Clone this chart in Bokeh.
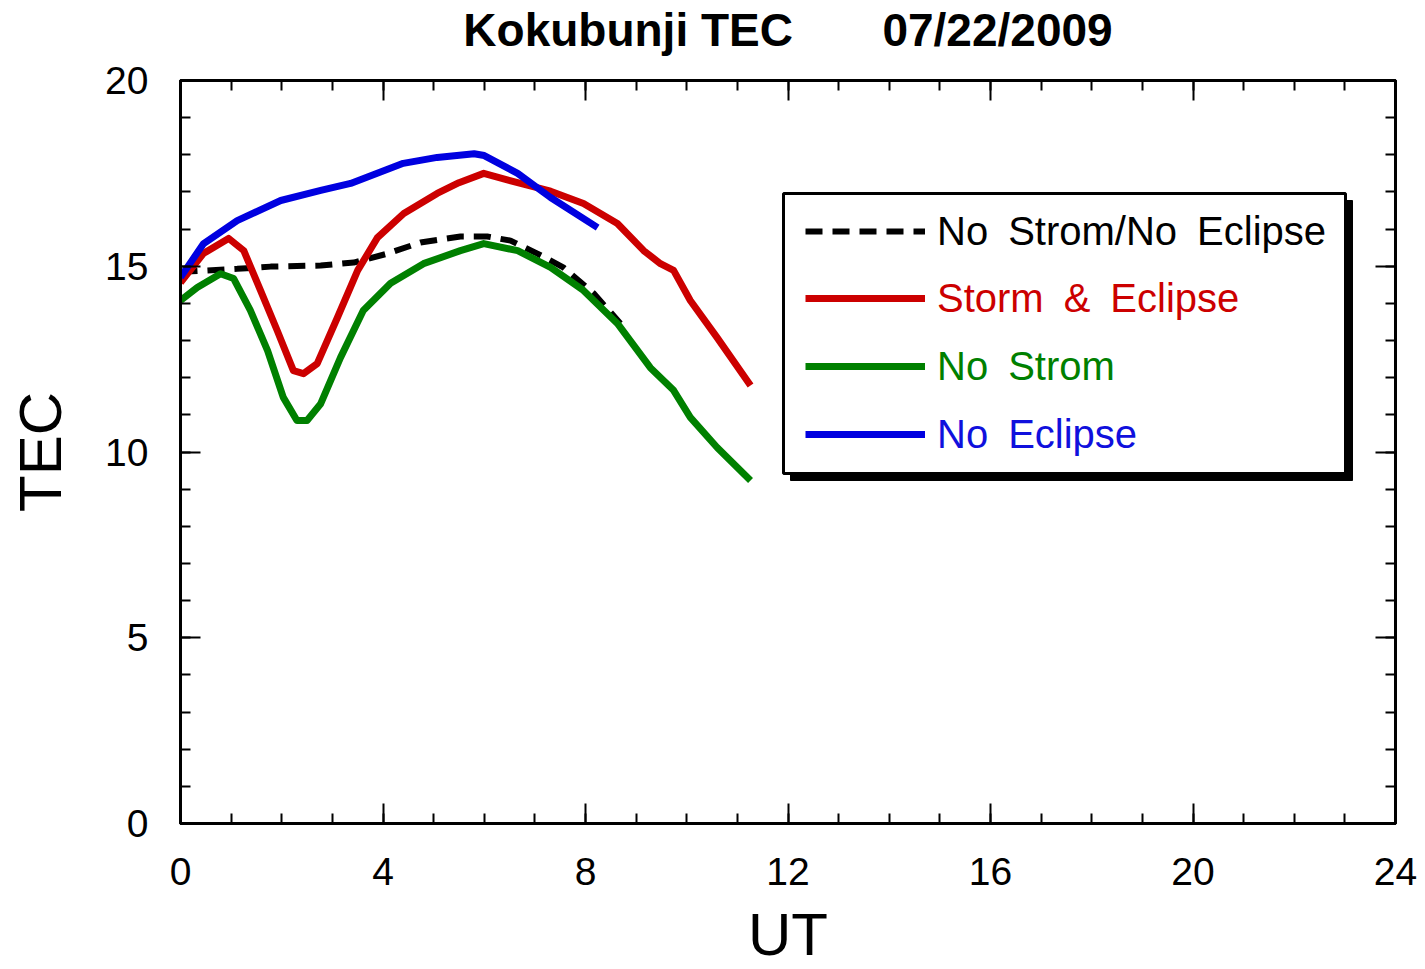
from bokeh.plotting import figure
from bokeh.models import (Range1d, LinearAxis, SingleIntervalTicker, Legend, LegendItem)
from bokeh.embed import file_html
from bokeh.resources import INLINE

# Kokubunji total electron content, 22 July 2009 (UT hours)
ut_storm_eclipse = [0, 0.45, 0.95, 1.25, 1.58, 1.91, 2.23, 2.43, 2.7, 3.1, 3.5, 3.89, 4.41,
                    5.07, 5.5, 5.99, 6.66, 7.31, 7.96, 8.63, 9.15, 9.48, 9.74, 10.07, 10.6, 11.26]
tec_storm_eclipse = [14.56, 15.34, 15.75, 15.42, 14.35, 13.27, 12.19, 12.11, 12.38, 13.62, 14.89,
                     15.77, 16.42, 16.96, 17.25, 17.5, 17.25, 17.02, 16.69, 16.15, 15.42, 15.07,
                     14.89, 14.08, 13.08, 11.79]

ut_no_storm = [0, 0.33, 0.79, 1.05, 1.38, 1.72, 2.03, 2.3, 2.5, 2.77, 3.16, 3.61, 4.15, 4.8,
               5.53, 5.99, 6.66, 7.31, 7.96, 8.63, 9.28, 9.74, 10.07, 10.6, 11.26]
tec_no_storm = [14.08, 14.43, 14.8, 14.67, 13.81, 12.73, 11.47, 10.85, 10.85, 11.3, 12.54, 13.81,
                14.54, 15.07, 15.42, 15.61, 15.42, 14.97, 14.35, 13.46, 12.27, 11.66, 10.93,
                10.12, 9.23]

ut_no_eclipse = [0, 0.45, 1.12, 1.98, 2.77, 3.36, 4.4, 5.07, 5.8, 6.0, 6.66, 7.31, 8.24]
tec_no_eclipse = [14.7, 15.6, 16.23, 16.77, 17.04, 17.23, 17.77, 17.93, 18.03, 17.98, 17.5,
                  16.85, 16.04]

ut_quiet = [0, 1.12, 1.78, 2.77, 3.42, 4.09, 4.74, 5.53, 6.06, 6.52, 7.05, 7.56, 8.16, 8.69]
tec_quiet = [14.85, 14.93, 14.99, 15.02, 15.1, 15.34, 15.64, 15.8, 15.8, 15.69, 15.34, 14.97,
             14.27, 13.46]

x_tick_values = [0, 4, 8, 12, 16, 20, 24]
y_tick_values = [0, 5, 10, 15, 20]
heading = "Kokubunji TEC" + "\u00a0" * 7 + "07/22/2009"

FONT = "Liberation Sans"
FW, FH = 1215, 743
LEFT, RIGHT, TOP, BOTTOM = 180, 30, 80, 146
GAP = "\u2002"

p = figure(frame_width=FW, frame_height=FH, x_range=Range1d(0, 24), y_range=Range1d(0, 20),
           output_backend="svg", toolbar_location=None,
           min_border_left=LEFT, min_border_right=RIGHT, min_border_top=TOP,
           min_border_bottom=BOTTOM, x_axis_location=None, y_axis_location=None)
p.background_fill_color = "white"
p.border_fill_color = "white"
p.outline_line_color = "black"
p.outline_line_width = 3
p.xgrid.visible = False
p.ygrid.visible = False
p.title.visible = False


def style_axis(ax, tick_values, labels=True):
    step = tick_values[1] - tick_values[0]
    ax.ticker = SingleIntervalTicker(interval=step, num_minor_ticks=step)
    ax.axis_line_width = 3
    ax.major_tick_in = 20
    ax.major_tick_out = 0
    ax.minor_tick_in = 10
    ax.minor_tick_out = 0
    ax.major_tick_line_width = 2
    ax.minor_tick_line_width = 2
    ax.major_label_text_font = FONT
    ax.major_label_text_color = "black"
    ax.axis_label_text_font = FONT
    ax.axis_label_text_color = "black"
    ax.axis_label_text_font_style = "normal"
    if not labels:
        ax.major_label_overrides = {v: "" for v in tick_values}
        ax.major_label_text_font_size = "1px"
        ax.major_label_standoff = 0


xb = LinearAxis()
style_axis(xb, x_tick_values)
xb.major_label_text_font_size = "39px"
xb.major_label_standoff = 34
xb.axis_label = "UT"
xb.axis_label_text_font_size = "60px"
xb.axis_label_standoff = 13
p.add_layout(xb, "below")

# top axis: inward ticks only, the heading sits above it
xt = LinearAxis()
style_axis(xt, x_tick_values, labels=False)
xt.axis_label = heading
xt.axis_label_text_font_size = "46px"
xt.axis_label_text_font_style = "bold"
xt.axis_label_standoff = 25
p.add_layout(xt, "above")

yl = LinearAxis()
style_axis(yl, y_tick_values)
yl.major_label_text_font_size = "39px"
yl.major_label_standoff = 32
yl.axis_label = "TEC"
yl.axis_label_text_font_size = "60px"
yl.axis_label_standoff = 28
p.add_layout(yl, "left")

yr = LinearAxis()
style_axis(yr, y_tick_values, labels=False)
p.add_layout(yr, "right")


def px_x(sx):
    return (sx - LEFT) * 24 / FW


def px_y(sy):
    return (TOP + FH - sy) * 20 / FH


# legend frame with a drop shadow
p.quad(left=[px_x(790)], right=[px_x(1352)], top=[px_y(200)], bottom=[px_y(480)],
       fill_color="black", line_color="black")
p.quad(left=[px_x(783)], right=[px_x(1345)], top=[px_y(193)], bottom=[px_y(473)],
       fill_color="white", line_color="black", line_width=3)

LW = 7
r_quiet = p.line(ut_quiet, tec_quiet, color="black", line_width=6, line_dash="17 10")
r_se = p.line(ut_storm_eclipse, tec_storm_eclipse, color="#CC0000", line_width=LW,
              line_join="round")
r_ns = p.line(ut_no_storm, tec_no_storm, color="#008000", line_width=LW, line_join="round")
r_ne = p.line(ut_no_eclipse, tec_no_eclipse, color="#0000E0", line_width=LW, line_join="round")

entries = [(f"No{GAP}Strom/No{GAP}Eclipse", r_quiet, "black", 231),
           (f"Storm{GAP}&{GAP}Eclipse", r_se, "#CC0000", 298),
           (f"No{GAP}Strom", r_ns, "#008000", 366),
           (f"No{GAP}Eclipse", r_ne, "#1010DD", 434)]
ITEM_H = 48
for label, rend, col, cy in entries:
    lg = Legend(items=[LegendItem(label=label, renderers=[rend])],
                location=(805 - LEFT, TOP + FH - cy - ITEM_H // 2),
                padding=0, margin=0, border_line_alpha=0, background_fill_alpha=0,
                glyph_width=120, glyph_height=ITEM_H, label_height=ITEM_H,
                label_standoff=12, label_text_font=FONT, label_text_font_size="40px",
                label_text_color=col)
    p.add_layout(lg, "center")

open("out.html", "w").write(file_html(p, INLINE))
